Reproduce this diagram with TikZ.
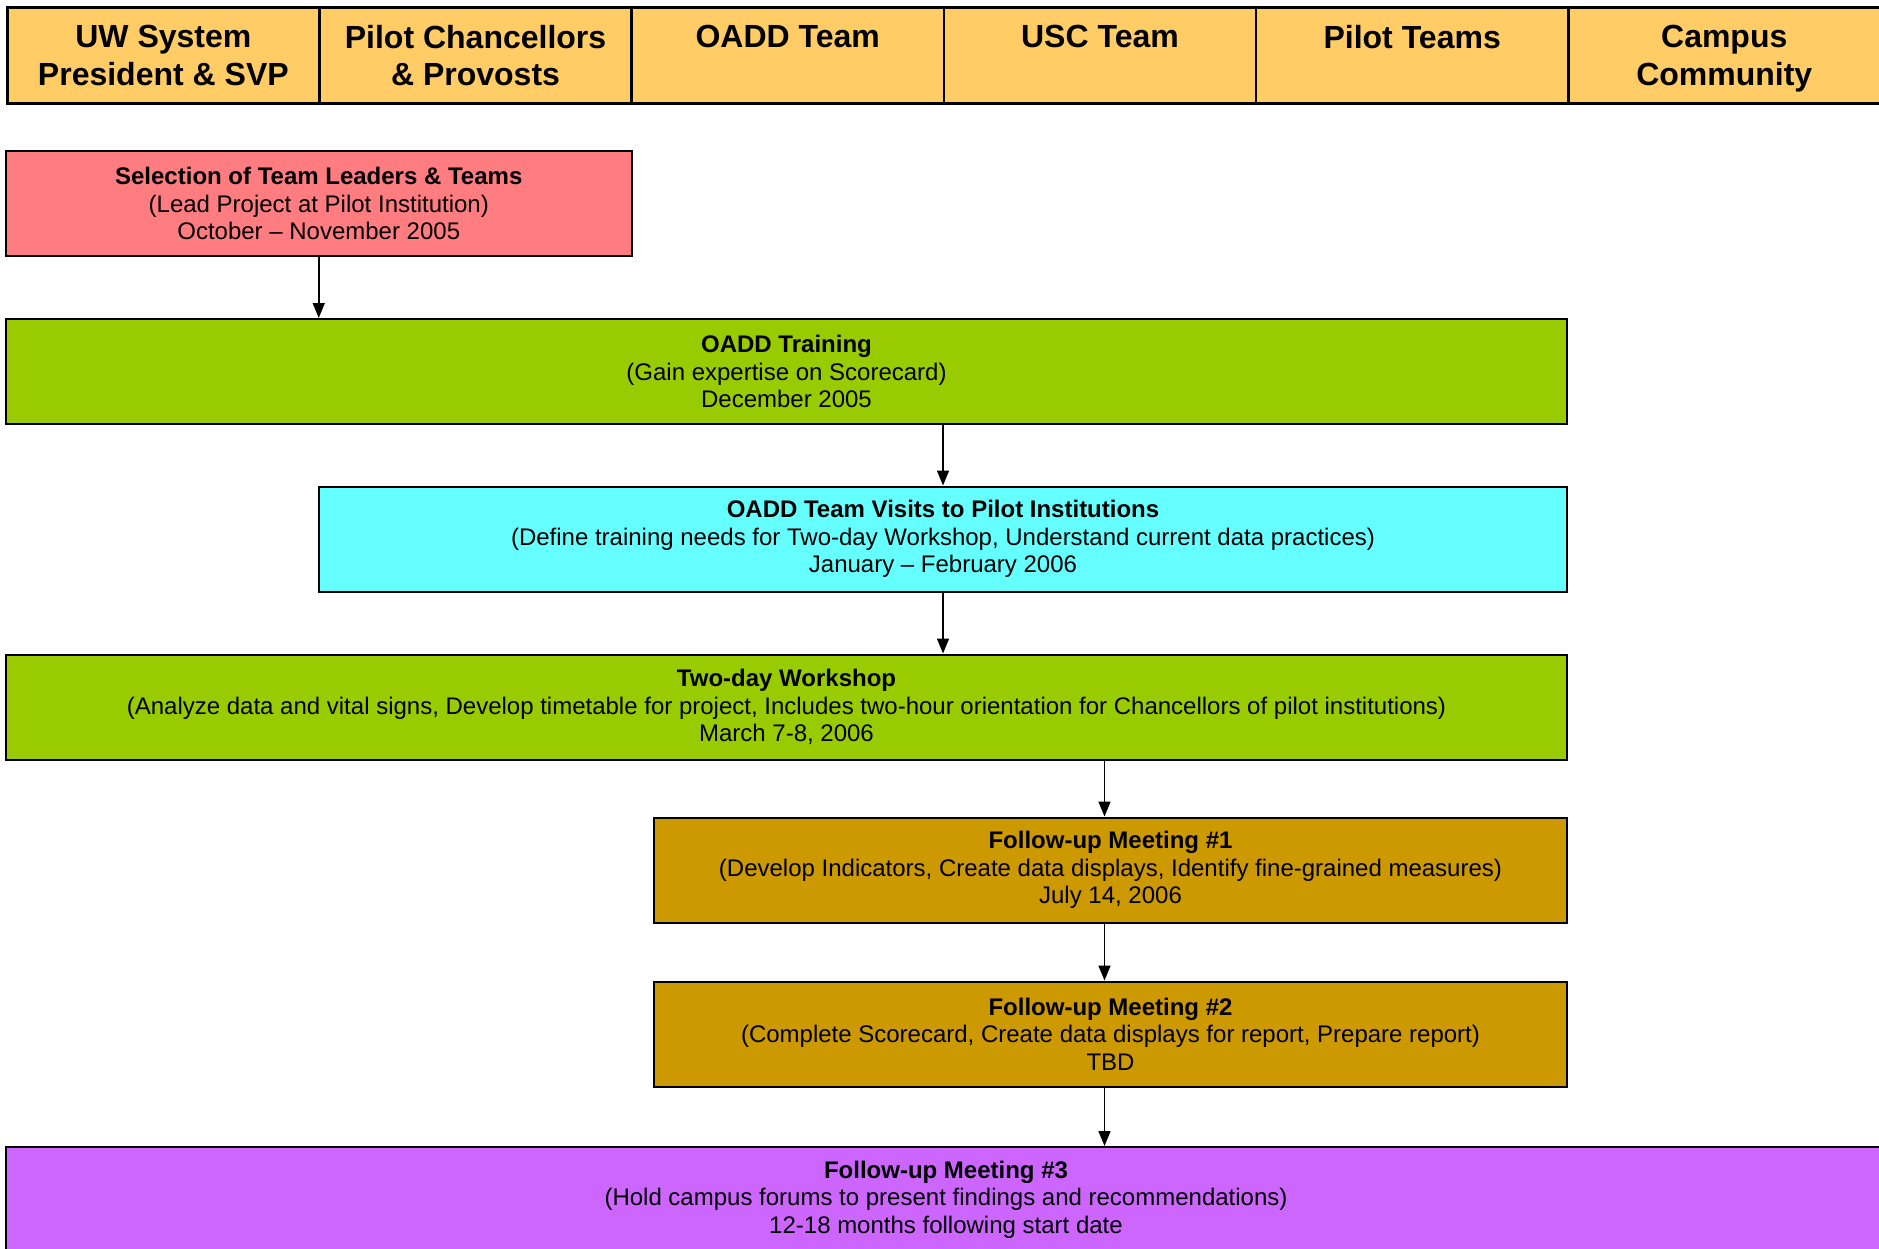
\documentclass[tikz,border=0pt]{standalone}
\usepackage{fontspec}
\setmainfont{Liberation Sans}
\usetikzlibrary{arrows.meta}
\definecolor{hdrfill}{HTML}{FFCC66}
\definecolor{pinkfill}{HTML}{FF7C80}
\definecolor{greenfill}{HTML}{99CC00}
\definecolor{cyanfill}{HTML}{66FFFF}
\definecolor{goldfill}{HTML}{CC9900}
\definecolor{purplefill}{HTML}{CC66FF}
\begin{document}
\begin{tikzpicture}[x=1pt,y=1pt,
  hdr/.style={draw, line width=2.5pt, fill=hdrfill, minimum width=312.2pt, minimum height=96pt, inner sep=0pt, anchor=north west},
  hdrtext/.style={anchor=north, inner sep=0pt, align=center, font=\fontsize{32}{37.5}\selectfont\bfseries},
  box/.style={draw, line width=2pt, minimum height=105pt, inner sep=0pt, align=center, font=\fontsize{24}{27.6}\selectfont},
  arr/.style={-{Triangle[length=15pt,width=12pt]}, line width=1.6pt}]
\useasboundingbox (0,0) rectangle (1879,-1248);
\fill[white] (0,0) rectangle (1879,-1248);
% header
\node[hdr] (h1) at (6,-6) {};
\node[hdr] (h2) at (318.2,-6) {};
\node[hdr] (h3) at (630.4,-6) {};
\node[hdr] (h4) at (942.6,-6) {};
\node[hdr] (h5) at (1254.8,-6) {};
\node[hdr, minimum width=320pt] (h6) at (1567,-6) {};
\node[hdrtext] (t1) at ([yshift=-19pt]h1.north) {UW System\\President \& SVP};
\node[hdrtext] (t2) at ([yshift=-19pt]h2.north) {Pilot Chancellors\\\& Provosts};
\node[hdrtext] (t3) at ([yshift=-19pt]h3.north) {OADD Team};
\node[hdrtext] (t4) at ([yshift=-19pt]h4.north) {USC Team};
\node[hdrtext] (t5) at ([yshift=-19pt]h5.north) {Pilot Teams};
\node[hdrtext] (t6) at ([yshift=-19pt,xshift=-4pt]h6.north) {Campus\\Community};
% boxes
\node[box, fill=pinkfill, minimum width=625.5pt] (b1) at (318.75,-203.5)
  {\textbf{Selection of Team Leaders \& Teams}\\(Lead Project at Pilot Institution)\\October – November 2005};
\node[box, fill=greenfill, minimum width=1561pt] (b2) at (786.5,-371.5)
  {\textbf{OADD Training}\\(Gain expertise on Scorecard)\\December 2005};
\node[box, fill=cyanfill, minimum width=1248pt] (b3) at (943,-539)
  {\textbf{OADD Team Visits to Pilot Institutions}\\(Define training needs for Two-day Workshop, Understand current data practices)\\January – February 2006};
\node[box, fill=greenfill, minimum width=1561pt] (b4) at (786.5,-707)
  {\textbf{Two-day Workshop}\\(Analyze data and vital signs, Develop timetable for project, Includes two-hour orientation for Chancellors of pilot institutions)\\March 7-8, 2006};
\node[box, fill=goldfill, minimum width=913pt] (b5) at (1110.5,-870)
  {\textbf{Follow-up Meeting \#1}\\(Develop Indicators, Create data displays, Identify fine-grained measures)\\July 14, 2006};
\node[box, fill=goldfill, minimum width=913pt] (b6) at (1110.5,-1034)
  {\textbf{Follow-up Meeting \#2}\\(Complete Scorecard, Create data displays for report, Prepare report)\\TBD};
\node[box, fill=purplefill, minimum width=1880pt] (b7) at (946,-1199.5)
  {\textbf{Follow-up Meeting \#3}\\(Hold campus forums to present findings and recommendations)\\12-18 months following start date};
% arrows
\draw[arr] (b1.south) -- (b1.south |- b2.north);
\draw[arr] (b2.south -| b3.north) -- (b3.north);
\draw[arr] (b3.south) -- (b3.south |- b4.north);
\coordinate (c45) at ([xshift=-6pt]b5.north);
\draw[arr] (b4.south -| c45) -- (c45);
\draw[arr] ([xshift=-6pt]b5.south) -- ([xshift=-6pt]b5.south |- b6.north);
\draw[arr] ([xshift=-6pt]b6.south) -- ([xshift=-6pt]b6.south |- b7.north);
\end{tikzpicture}
\end{document}
